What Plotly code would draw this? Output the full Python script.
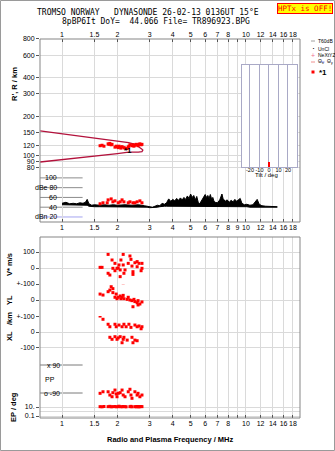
import math
import plotly.graph_objects as go

# ---------------------------------------------------------------- data
FREQ_TICKS_OUTER = [1, 1.5, 2, 3, 4, 5, 6, 7, 8, 10, 12, 14, 16, 18]
FREQ_TICKS_MID = [1, 1.5, 2, 3, 4, 5, 6, 7, 8, 9, 10, 12, 14, 16, 18]
FREQ_EXTRA_GRID = [9]

RANGE_TICKS = [80, 90, 100, 120, 150, 200, 300, 400, 600, 800]

# virtual range of the E-layer echoes (MHz, km)
ECHO_F = [1.61, 1.65, 1.69, 1.78, 1.80, 1.82, 1.85, 1.87, 1.94, 1.97,
          1.99, 2.02, 2.04, 2.07, 2.09, 2.12, 2.17, 2.20, 2.26, 2.29,
          2.31, 2.34, 2.40, 2.43, 2.46, 2.49, 2.53, 2.56, 2.59, 2.62,
          2.65, 2.69, 2.72]
ECHO_H = [119, 120, 118, 123, 122, 124, 121, 122, 116, 118,
          117, 115, 118, 116, 114, 117, 115, 114, 113, 116,
          118, 121, 119, 121, 118, 120, 122, 121, 119, 122,
          123, 121, 122]

# model trace (R' upper branch, R lower branch)
MODEL_F = [0.76, 1.0, 1.3, 1.6, 1.9, 2.1, 2.3, 2.5, 2.65, 2.72, 2.75,
           2.72, 2.6, 2.3, 2.0, 1.6, 1.3, 1.0, 0.76]
MODEL_H = [155, 147, 140, 135, 130, 128, 126, 122, 116, 112, 110,
           107, 106, 106, 103.5, 100, 96.4, 93, 89]

# amplitude panel
DB_TICKS = [100, 80, 60, 40, 20]
DB_TEXT = ["100", "dBe 80", "60", "40", "dBn 20"]
DB_LINE_COLORS = ["#8c8c8c", "#8c8c8c", "#8c8c8c", "#8c8c8c", "#a4a4f0"]

NOISE_F = [1.0, 1.05, 1.1, 1.15, 1.2, 1.25, 1.3, 1.34, 1.37, 1.4,
           1.45, 1.5, 1.6, 1.7, 1.8, 1.9, 2.0, 2.2, 2.4, 2.6,
           2.8, 2.9, 3.0, 3.1, 3.2, 3.3, 3.4, 3.5, 3.6, 3.7,
           3.8, 3.9, 4.0, 4.1, 4.2, 4.3, 4.4, 4.5, 4.6, 4.7,
           4.8, 4.9, 5.0, 5.1, 5.2, 5.3, 5.4, 5.5, 5.6, 5.7,
           5.8, 5.9, 6.0, 6.1, 6.2, 6.3, 6.4, 6.5, 6.6, 6.7,
           6.8, 7.0, 7.2, 7.4, 7.5, 7.7, 7.9, 8.1, 8.3, 8.5,
           8.7, 8.9, 9.1, 9.3, 9.5, 9.8, 10.1, 10.5, 10.9, 11.2,
           11.5, 11.8, 12.2, 12.8, 13.5, 14.2, 14.8]
NOISE_TOP = [48, 50, 47, 48, 47, 49, 48, 50, 56, 47,
             44, 45, 44, 45, 44, 45, 44, 45, 44, 45,
             43, 42, 41, 40, 42, 44, 43, 48, 46, 49,
             57, 52, 56, 53, 58, 54, 59, 55, 60, 56,
             63, 58, 67, 60, 64, 55, 62, 50, 47, 52,
             58, 62, 66, 60, 64, 58, 66, 57, 60, 52,
             50, 49, 55, 67, 58, 52, 55, 50, 54, 51,
             56, 52, 55, 58, 48, 45, 46, 44, 45, 52,
             56, 46, 43, 42, 42, 41, 41]
NOISE_LOW = [45, 45, 45, 44, 45, 44, 45, 44, 44, 42,
             41, 41, 41, 41, 41, 41, 41, 41, 41, 41,
             41, 40, 39, 39, 39, 40, 41, 42, 42, 42,
             42, 42, 42, 42, 42, 42, 42, 42, 42, 42,
             42, 42, 42, 42, 42, 42, 42, 42, 42, 42,
             42, 42, 42, 42, 42, 42, 42, 42, 42, 42,
             42, 42, 42, 42, 42, 42, 42, 42, 42, 42,
             42, 42, 42, 42, 41, 41, 41, 40, 40, 40,
             40, 40, 40, 40, 40, 40, 40]

ECHO_DB_F = [1.61, 1.67, 1.76, 1.78, 1.85, 1.89, 1.94, 2.02, 2.07, 2.12,
             2.17, 2.29, 2.34, 2.43, 2.49, 2.56, 2.65, 2.72]
ECHO_DB = [47, 49, 49, 55, 57, 51, 53, 49, 51, 55,
           51, 49, 51, 49, 49, 51, 53, 49]

# Doppler velocity V* (m/s)
VS_F = [1.61, 1.65, 1.78, 1.82, 1.78, 1.87, 1.94, 1.99, 1.94, 2.04,
        2.07, 2.07, 2.09, 2.15, 2.15, 2.17, 2.20, 2.29, 2.34, 2.37,
        2.40, 2.43, 2.43, 2.49, 2.56, 2.56, 2.62, 2.69, 2.72, 2.72,
        2.02, 1.89]
VS_V = [4, 4, -33, -44, 85, 50, 29, -2, -17, 19,
        -12, -54, 50, 85, 19, -33, -12, 29, 75, 54,
        12, -23, -40, 33, 40, 8, 29, -17, 29, -2,
        0, -2]

# echo location YL / XL (km)
YL_F = [1.61, 1.67, 1.78, 1.82, 1.85, 1.89, 1.89, 1.94, 1.97, 1.99,
        2.02, 2.07, 2.09, 2.12, 2.15, 2.15, 2.17, 2.26, 2.29, 2.34,
        2.40, 2.43, 2.46, 2.49, 2.56, 2.59, 2.65, 2.72, 2.59]
YL_V = [37, 31, 52, 62, 83, 71, 46, 17, 37, 8,
        17, 25, 8, 17, 108, 29, 8, 4, 17, 0,
        -4, -42, 4, -10, -17, -4, -25, -12, -31]

XL_F = [1.61, 1.67, 1.78, 1.82, 1.94, 1.97, 2.04, 2.12, 2.17, 2.23,
        2.31, 2.37, 2.49, 2.56, 2.62, 2.69, 2.72,
        1.82, 1.87, 1.94, 1.99, 2.02, 2.07, 2.12, 2.15, 2.17, 2.26,
        2.40, 2.43, 2.49, 2.56]
XL_V = [103, 82, 50, 34, 50, 34, 45, 34, 50, 34,
        50, 30, 45, 34, 39, 21, 34,
        -34, -47, -30, -47, -38, -30, -69, -47, -34, -52,
        -34, -69, -52, -56]

# polarisation PP (deg)
PP_F = [1.61, 1.67, 1.78, 1.82, 1.87, 1.89, 1.94, 1.97, 1.99, 2.02,
        2.07, 2.12, 2.15, 2.20, 2.29, 2.34, 2.37, 2.40, 2.49, 2.56,
        2.59, 2.65, 2.72]
PP_V = [-92, -82, -82, -103, -114, -88, -71, -96, -114, -92,
        -88, -71, -103, -114, -82, -66, -103, -124, -82, -103,
        -92, -114, -103]
PP_MARKS = [90, -90]
PP_TEXT = ["x 90", "o -90"]

# EP (deg)
EP_F = [1.61, 1.65, 1.69, 1.78, 1.82, 1.85, 1.89, 1.94, 1.97, 2.02,
        2.04, 2.07, 2.12, 2.15, 2.20, 2.23, 2.34, 2.37, 2.40, 2.49,
        2.53, 2.56, 2.59, 2.62, 2.65, 2.69, 2.72]
EP_V = [12, 11, 13, 12, 14, 11, 12, 13, 11, 12,
        15, 12, 11, 13, 12, 11, 12, 14, 11, 12,
        11, 13, 12, 11, 12, 13, 12]
EP_TICKS = [10, 0.1]
EP_TEXT = ["10.", "0.1"]
EP_EXTRA_GRID = [1]

# tilt histogram
TILT_TICKS = [-20, -10, 0, 10, 20]
TILT_X = [0]
TILT_N = [1]

# ---------------------------------------------------------------- geometry
W, H = 335, 451
ML, MR, MT, MB = 40, 35, 39, 33
PW = W - ML - MR
PH = H - MT - MB


def px_x(x):
    return (x - ML) / PW


def px_y(y):
    return (H - MB - y) / PH


def dom(ytop, ybot):
    return [px_y(ybot), px_y(ytop)]


LG = math.log10
XR = [LG(0.759), LG(19.66)]

GRID = "#dadada"
FRAME = "#858585"
RED = "#ff0000"
TICKFONT = dict(family="Liberation Sans", size=7, color="black")
LABFONT = dict(family="Liberation Sans", size=7.5, color="black")
MSIZE = 3

fig = go.Figure()

# top panel: model curve + echoes
fig.add_trace(go.Scatter(x=MODEL_F, y=MODEL_H, mode="lines",
                         line=dict(color="#b3123c", width=1.3),
                         xaxis="x", yaxis="y", hoverinfo="skip"))
fig.add_trace(go.Scatter(x=ECHO_F, y=ECHO_H, mode="markers",
                         marker=dict(symbol="square", size=MSIZE, color=RED, line_width=0),
                         xaxis="x", yaxis="y"))

# amplitude panel
fig.add_trace(go.Scatter(x=NOISE_F, y=NOISE_LOW, mode="lines",
                         line=dict(color="black", width=1),
                         xaxis="x2", yaxis="y2", hoverinfo="skip"))
fig.add_trace(go.Scatter(x=NOISE_F, y=NOISE_TOP, mode="lines", fill="tonexty",
                         fillcolor="black", line=dict(color="black", width=1),
                         xaxis="x2", yaxis="y2", hoverinfo="skip"))
fig.add_trace(go.Scatter(x=ECHO_DB_F, y=ECHO_DB, mode="markers",
                         marker=dict(symbol="square", size=MSIZE, color=RED, line_width=0),
                         xaxis="x2", yaxis="y2"))

# lower panel parameters
for fx, fy, ya in [(VS_F, VS_V, "y3"), (YL_F, YL_V, "y4"), (XL_F, XL_V, "y5"),
                   (PP_F, PP_V, "y6"), (EP_F, EP_V, "y7")]:
    fig.add_trace(go.Scatter(x=fx, y=fy, mode="markers",
                             marker=dict(symbol="square", size=MSIZE, color=RED, line_width=0),
                             xaxis="x3", yaxis=ya))

# tilt inset
fig.add_trace(go.Bar(x=TILT_X, y=TILT_N, width=1.1, marker=dict(color=RED, line_width=0),
                     xaxis="x8", yaxis="y8"))

xcommon = dict(type="log", range=XR, showgrid=True,
               gridcolor=GRID, gridwidth=1, ticks="inside", ticklen=3,
               tickcolor="#555555", showline=False, zeroline=False, tickangle=0,
               tickfont=TICKFONT, fixedrange=True)
xouter = dict(xcommon, tickvals=FREQ_TICKS_OUTER, ticktext=[f"{v:g}" for v in FREQ_TICKS_OUTER],
              minor=dict(tickvals=FREQ_EXTRA_GRID, showgrid=True, gridcolor=GRID,
                         ticks="inside", ticklen=3, tickcolor="#555555"))
ycommon = dict(showgrid=True, gridcolor=GRID, gridwidth=1, ticks="outside",
               ticklen=3, tickcolor="#555555", showline=False, zeroline=False,
               tickfont=TICKFONT, fixedrange=True)

fig.update_layout(
    width=W, height=H,
    margin=dict(l=ML, r=MR, t=MT, b=MB, pad=0),
    paper_bgcolor="white", plot_bgcolor="white",
    showlegend=False,
    xaxis=dict(xouter, side="top", anchor="y", domain=[0, 1]),
    yaxis=dict(ycommon, type="log", range=[1.864, 2.903], domain=dom(39, 173),
               tickvals=RANGE_TICKS, ticktext=[str(v) for v in RANGE_TICKS]),
    xaxis2=dict(xcommon, tickvals=FREQ_TICKS_MID,
                ticktext=[f"{v:g}" for v in FREQ_TICKS_MID], anchor="y2", domain=[0, 1]),
    yaxis2=dict(range=[9.7, 110], domain=dom(173, 222), showgrid=False,
                showticklabels=False, ticks="", zeroline=False, fixedrange=True),
    xaxis3=dict(xouter, anchor="y7", domain=[0, 1]),
    yaxis3=dict(ycommon, range=[-100, 193.75], domain=dom(237, 284), anchor="x3",
                tickvals=[100, 0], ticktext=["100", "0"]),
    yaxis4=dict(ycommon, range=[-100, 100], domain=dom(284, 316), anchor="x3",
                tickvals=[100, 0], ticktext=["+-100", "0"]),
    yaxis5=dict(ycommon, range=[-148, 103.2], domain=dom(316, 355), anchor="x3",
                tickvals=[100, 0, -100], ticktext=["+-100", "0", "-100"]),
    yaxis6=dict(range=[-141.4, 154.3], domain=dom(355, 401), anchor="x3",
                showgrid=False, showticklabels=False, ticks="", zeroline=False,
                fixedrange=True),
    yaxis7=dict(ycommon, type="log", range=[-1.444, 2.334], domain=dom(401, 418),
                anchor="x3", tickvals=EP_TICKS, ticktext=EP_TEXT,
                minor=dict(tickvals=EP_EXTRA_GRID, showgrid=True, gridcolor=GRID, ticks="")),
    xaxis8=dict(range=[-28.4, 29.5], domain=[px_x(242), px_x(297)], anchor="y8",
                tickvals=TILT_TICKS, ticktext=[str(v) for v in TILT_TICKS],
                showgrid=True, gridcolor="#a9a9c6", showline=True, mirror=True,
                linecolor="#a9a9c6", ticks="", zeroline=False, ticklabelstandoff=-3,
                tickangle=0,
                tickfont=dict(family="Liberation Sans", size=5.5, color="black"),
                fixedrange=True),
    yaxis8=dict(range=[0, 20], domain=dom(65, 167), anchor="x8", showgrid=False,
                showticklabels=False, showline=True, mirror=True,
                linecolor="#a9a9c6", ticks="", zeroline=False, fixedrange=True),
)

shapes = []
# white ground of the tilt inset
shapes.append(dict(type="rect", xref="x8", yref="y8", x0=-28.4, x1=29.5, y0=0, y1=20,
                   fillcolor="white", line_width=0, layer="below"))
# panel frames
shapes.append(dict(type="rect", xref="paper", yref="paper", x0=0, x1=1,
                   y0=px_y(222), y1=1, line=dict(color=FRAME, width=1), layer="above"))
shapes.append(dict(type="rect", xref="paper", yref="paper", x0=0, x1=1,
                   y0=0, y1=px_y(237), line=dict(color=FRAME, width=1), layer="above"))
# outer border
shapes.append(dict(type="rect", xref="paper", yref="paper", x0=px_x(0.5), x1=px_x(334.5),
                   y0=px_y(450.5), y1=px_y(0.5), line=dict(color="#9a9a9a", width=1)))
# amplitude reference levels
for v, c in zip(DB_TICKS, DB_LINE_COLORS):
    shapes.append(dict(type="line", xref="x2", yref="y2", x0=LG(0.975), x1=XR[1],
                       y0=v, y1=v, line=dict(color=c, width=1), layer="below"))
# polarisation reference levels
for v in PP_MARKS:
    shapes.append(dict(type="line", xref="x3", yref="y6", x0=LG(1.01), x1=XR[1],
                       y0=v, y1=v, line=dict(color="#7a7a7a", width=1), layer="below"))

# legend swatches
shapes.append(dict(type="line", xref="paper", yref="paper", x0=px_x(311), x1=px_x(315),
                   y0=px_y(41), y1=px_y(41), line=dict(color="#a0a0a0", width=1)))
shapes.append(dict(type="line", xref="paper", yref="paper", x0=px_x(311), x1=px_x(315),
                   y0=px_y(62), y1=px_y(62), line=dict(color="#f09090", width=1)))
shapes.append(dict(type="line", xref="paper", yref="paper", x0=px_x(321.5), x1=px_x(324.5),
                   y0=px_y(62), y1=px_y(62), line=dict(color="#9090f0", width=1)))
shapes.append(dict(type="rect", xref="paper", yref="paper", x0=px_x(311.5), x1=px_x(314.5),
                   y0=px_y(73.5), y1=px_y(70.5), fillcolor=RED, line_width=0))
fig.update_layout(shapes=shapes)

ann = []


def note(x, y, text, xa="center", ya="middle", font=None, angle=0, **kw):
    ann.append(dict(x=x, y=y, text=text, showarrow=False, xanchor=xa, yanchor=ya,
                    font=font or LABFONT, textangle=angle, **kw))


MONO = dict(family="DejaVu Sans Mono", size=8, color="black")
note(px_x(35), px_y(13), "TROMSO NORWAY\u00a0\u00a0\u00a0DYNASONDE 26-02-13 0136UT 15\u00b0E",
     xa="left", font=MONO, xref="paper", yref="paper")
note(px_x(60), px_y(21), "8pBP6It DoY=\u00a0\u00a044.066 File= TR896923.BPG",
     xa="left", font=MONO, xref="paper", yref="paper")
note(px_x(333), px_y(8), "HPTx is OFF!", xa="right",
     font=dict(family="DejaVu Sans Mono", size=7.5, color=RED),
     xref="paper", yref="paper", bgcolor="#ffff00", bordercolor=RED, borderwidth=1, borderpad=0)

BOLD = dict(family="Liberation Sans", size=7.5, color="black", weight="bold")
note(px_x(14), px_y(84), "R', R / km", font=BOLD, angle=-90, xref="paper", yref="paper")
note(px_x(9), px_y(265), "V* m/s", font=BOLD, angle=-90, xref="paper", yref="paper")
note(px_x(9), px_y(300), "YL", font=BOLD, angle=-90, xref="paper", yref="paper")
note(px_x(9), px_y(319), "/km", font=BOLD, angle=-90, xref="paper", yref="paper")
note(px_x(9), px_y(336), "XL", font=BOLD, angle=-90, xref="paper", yref="paper")
note(px_x(13), px_y(407), "EP / deg", font=BOLD, angle=-90, xref="paper", yref="paper")
note(0.5, px_y(439), "Radio and Plasma Frequency / MHz", font=BOLD, xref="paper", yref="paper")

for v, t in zip(DB_TICKS, DB_TEXT):
    note(px_x(59), v, t, xa="right", font=TICKFONT, xref="paper", yref="y2")
for v, t in zip(PP_MARKS, PP_TEXT):
    note(px_x(62), v, t, xa="right", font=TICKFONT, xref="paper", yref="y6")
note(px_x(43), 0, "PP", xa="left", font=TICKFONT, xref="paper", yref="y6")

note(LG(2.285), LG(110), "*1", font=dict(family="Liberation Sans", size=8, color="black", weight="bold"),
     xref="x", yref="y")
note(px_x(266), px_y(175), "Tilt / deg", font=dict(family="Liberation Sans", size=6, color="black"),
     xref="paper", yref="paper")

# legend texts
LEGF = dict(family="Liberation Sans", size=5, color="black")
note(px_x(316), px_y(41), "T60dB", xa="left", font=LEGF, xref="paper", yref="paper")
note(px_x(313), px_y(48), "\u00b7", xa="center", font=dict(family="Liberation Sans", size=9, color="black"),
     xref="paper", yref="paper")
note(px_x(316), px_y(49), "UnCl", xa="left", font=LEGF, xref="paper", yref="paper")
note(px_x(313), px_y(55), "+", xa="center", font=dict(family="Liberation Sans", size=7, color="#f07090"),
     xref="paper", yref="paper")
note(px_x(316), px_y(55), "NeXtYZ", xa="left", font=LEGF, xref="paper", yref="paper")
note(px_x(315.5), px_y(62), "\u0398<sub>x</sub>", xa="left", font=LEGF, xref="paper", yref="paper")
note(px_x(325), px_y(62), "\u0398<sub>y</sub>", xa="left", font=LEGF, xref="paper", yref="paper")
note(px_x(316.5), px_y(72), "*1", xa="left", font=dict(family="Liberation Sans", size=8, color="black", weight="bold"),
     xref="paper", yref="paper")

fig.update_layout(annotations=ann)
fig.write_html("out.html")
